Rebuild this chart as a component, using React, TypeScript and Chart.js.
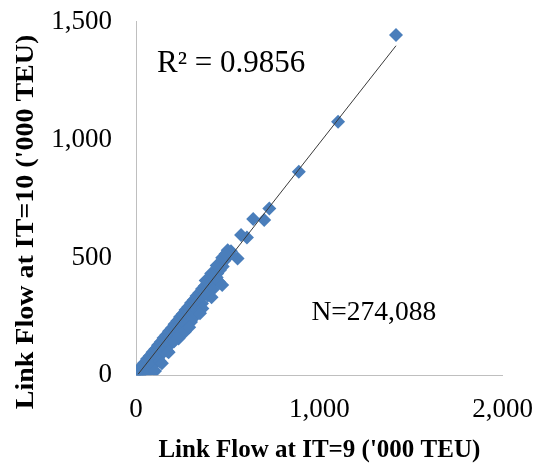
import React, { useEffect, useRef } from 'react';
import { Chart, registerables } from 'chart.js';

Chart.register(...registerables);

// Link flow at iteration 9 ('000 TEU) – x values of the scatter
const flowIT9 = [
  0, 15, 30, 45, 60, 75, 90, 105, 120, 135, 150, 165, 180, 195, 210, 225, 240, 255, 270, 285,
  300, 315, 330, 345, 360, 375, 390, 405, 420, 435, 450, 465, 480, 495, 510, 518,
  8, 23, 38, 53, 68, 83, 98, 113, 128, 143, 158, 173, 188, 203, 218, 233, 248, 263, 278, 293,
  308, 323, 338, 353, 368, 383, 398, 413, 428, 443, 458, 473,
  20, 35, 50, 65, 80, 95, 110, 125, 140, 155, 170, 185, 200, 215, 230, 245, 260, 275, 290, 305,
  320, 335, 350, 365, 380, 395, 410, 425, 440,
  90, 120, 150, 182, 210, 243, 270, 302, 331, 360, 392, 420, 452,
  130, 172, 232, 300, 362, 412,
  380, 410, 440, 470, 500,
  62, 104, 141, 178, 207, 236, 267, 290, 329, 349, 376, 470, 488, 554, 573, 605, 639, 699, 727,
  888, 1102, 1418,
];

// Link flow at iteration 10 ('000 TEU) – y values of the scatter
const flowIT10 = [
  8, 22, 39, 52, 69, 82, 98, 111, 128, 141, 158, 171, 187, 200, 217, 230, 247, 260, 277, 290,
  307, 319, 336, 349, 366, 379, 396, 409, 426, 438, 455, 468, 485, 498, 515, 526,
  2, 17, 31, 46, 61, 75, 91, 105, 120, 136, 150, 165, 180, 195, 209, 225, 240, 254, 269, 284,
  299, 314, 328, 344, 358, 373, 388, 403, 418, 432, 447, 462,
  1, 14, 29, 44, 59, 74, 88, 103, 118, 133, 148, 163, 178, 192, 207, 222, 237, 252, 266, 281,
  296, 311, 326, 340, 355, 370, 385, 400, 415,
  38, 70, 98, 128, 160, 186, 219, 246, 278, 305, 338, 365, 397,
  60, 102, 156, 226, 283, 331,
  402, 432, 466, 499, 530,
  10, 18, 51, 98, 143, 170, 185, 204, 256, 263, 348, 383, 515, 496, 595, 585, 663, 659, 708,
  864, 1076, 1444,
];

// Linear trendline end points
const trendIT9 = [12, 1418];
const trendIT10 = [5, 1398];

// Axis ticks
const xTicks = [0, 1000, 2000];
const yTicks = [0, 500, 1000, 1500];

const rSquaredLabel = 'R² = 0.9856';
const countLabel = 'N=274,088';
const xTitle = "Link Flow at IT=9 ('000 TEU)";
const yTitle = "Link Flow at IT=10 ('000 TEU)";

const SERIF = "'Liberation Serif', 'Times New Roman', serif";

export default function App() {
  const canvasRef = useRef<HTMLCanvasElement>(null);

  useEffect(() => {
    document.body.style.margin = '0';
    const canvas = canvasRef.current;
    if (!canvas) return;

    const textPlugin = {
      id: 'annotTexts',
      afterDraw(chart: any) {
        const ctx = chart.ctx as CanvasRenderingContext2D;
        const xs = chart.scales.x;
        const ys = chart.scales.y;
        ctx.save();
        ctx.fillStyle = '#000000';
        ctx.textAlign = 'left';
        ctx.textBaseline = 'alphabetic';
        ctx.font = `31px ${SERIF}`;
        ctx.fillText(rSquaredLabel, xs.getPixelForValue(115), ys.getPixelForValue(1288));
        ctx.font = `27.5px ${SERIF}`;
        ctx.fillText(countLabel, xs.getPixelForValue(957), ys.getPixelForValue(235));
        ctx.restore();

        // vertical axis title
        ctx.save();
        ctx.fillStyle = '#000000';
        ctx.translate(33, 222);
        ctx.rotate(-Math.PI / 2);
        ctx.scale(1, 0.88);
        ctx.textAlign = 'center';
        ctx.textBaseline = 'alphabetic';
        ctx.font = `bold 28px ${SERIF}`;
        ctx.fillText(yTitle, 0, 0);
        ctx.restore();
      },
    };

    const points = flowIT9.map((x, i) => ({ x, y: flowIT10[i] }));
    const trend = trendIT9.map((x, i) => ({ x, y: trendIT10[i] }));

    const chart = new Chart(canvas, {
      type: 'scatter',
      data: {
        datasets: [
          {
            type: 'line',
            label: 'Trend',
            data: trend,
            borderColor: '#3a3a3a',
            borderWidth: 1,
            pointRadius: 0,
            fill: false,
            order: 0,
          } as any,
          {
            label: 'Links',
            data: points,
            pointStyle: 'rectRot',
            pointRadius: 7,
            backgroundColor: '#4a7ebb',
            borderColor: '#4a7ebb',
            borderWidth: 0,
            order: 1,
          },
        ],
      },
      options: {
        animation: false,
        responsive: false,
        layout: { padding: { left: 0, right: 34.3, top: 21.7, bottom: 0 } },
        plugins: {
          legend: { display: false },
          tooltip: { enabled: false },
        },
        scales: {
          x: {
            type: 'linear',
            min: 0,
            max: 2000,
            afterBuildTicks: (scale: any) => {
              scale.ticks = xTicks.map((v) => ({ value: v }));
            },
            afterFit: (scale: any) => {
              scale.height = 88.7;
              scale.paddingLeft = 0;
              scale.paddingRight = 0;
            },
            grid: { display: false, drawTicks: false },
            border: { display: true, color: '#bfbfbf', width: 1 },
            ticks: {
              padding: 18,
              color: '#000000',
              font: { family: SERIF, size: 27, lineHeight: 1.2 },
              maxRotation: 0,
              callback: (v: any) => Number(v).toLocaleString('en-US'),
            },
            title: {
              display: true,
              text: xTitle,
              color: '#000000',
              font: { family: SERIF, size: 25, weight: 'bold', lineHeight: 1 },
              padding: { top: 0, bottom: 1 },
            },
          },
          y: {
            type: 'linear',
            min: 0,
            max: 1500,
            afterBuildTicks: (scale: any) => {
              scale.ticks = yTicks.map((v) => ({ value: v }));
            },
            afterFit: (scale: any) => {
              scale.width = 136;
              scale.paddingTop = 0;
              scale.paddingBottom = 0;
            },
            grid: { display: false, drawTicks: false },
            border: { display: true, color: '#bfbfbf', width: 1 },
            ticks: {
              padding: 24,
              color: '#000000',
              font: { family: SERIF, size: 27, lineHeight: 1.2 },
              callback: (v: any) => Number(v).toLocaleString('en-US'),
            },
            title: { display: false },
          },
        },
      },
      plugins: [textPlugin],
    });

    return () => {
      chart.destroy();
    };
  }, []);

  return (
    <div style={{ width: 537, height: 464 }}>
      <canvas ref={canvasRef} width={537} height={464} style={{ display: 'block' }} />
    </div>
  );
}
